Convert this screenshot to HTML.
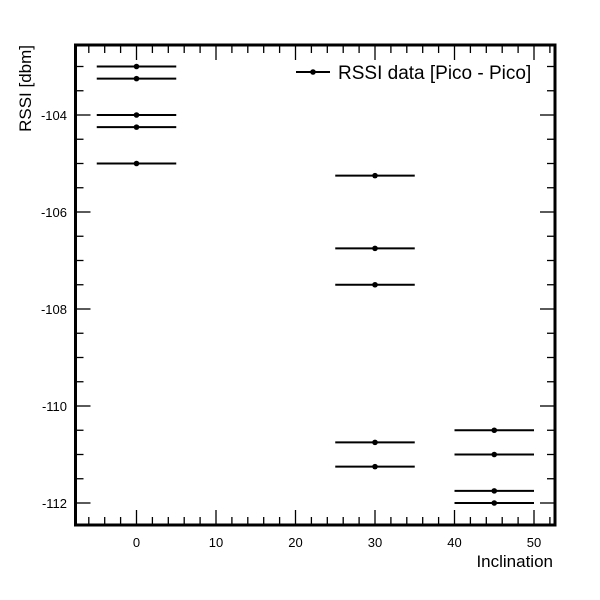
<!DOCTYPE html>
<html><head><meta charset="utf-8"><style>
body{margin:0;background:#fff;}
svg{display:block;font-family:"Liberation Sans",Arial,sans-serif;}
</style></head><body>
<svg id="chart" width="600" height="600">
<rect x="0" y="0" width="600" height="600" fill="#fff"/>
<g id="ticks"></g>
<g id="marks"></g>
<rect x="75.5" y="45" width="479.5" height="480" fill="none" stroke="#000" stroke-width="3"/>
<text x="553" y="567" text-anchor="end" font-size="17">Inclination</text>
<text transform="translate(31,45) rotate(-90)" text-anchor="end" font-size="17">RSSI [dbm]</text>
<g>
<line x1="296" y1="72" x2="330" y2="72" stroke="#000" stroke-width="2"/>
<circle cx="313" cy="72" r="2.8" fill="#000"/>
<text x="338" y="79" font-size="19">RSSI data [Pico - Pico]</text>
</g>
</svg>
<script>
const xValues=[0,0,0,0,0,30,30,30,30,30,45,45,45,45];
const yValues=[-103,-103.25,-104,-104.25,-105,-105.25,-106.75,-107.5,-110.75,-111.25,-110.5,-111,-111.75,-112];
const xErrors=[5,5,5,5,5,5,5,5,5,5,5,5,5,5];
const xTickLabels=[0,10,20,30,40,50];
const yTickLabels=[-104,-106,-108,-110,-112];
const NS="http://www.w3.org/2000/svg";
function X(v){return 136.5+7.95*v;}
function Y(v){return 115+(-104-v)*48.5;}
function mk(t,a,p){const e=document.createElementNS(NS,t);for(const k in a)e.setAttribute(k,a[k]);p.appendChild(e);return e;}
const T=document.getElementById('ticks'),M=document.getElementById('marks');
const L=75.5,R=555,TOP=45,B=525;
for(let v=-6;v<=52;v+=2){const x=X(v);if(x<L+1||x>R-1)continue;const maj=v%10===0;const len=maj?15:8;
mk('line',{x1:x,y1:B,x2:x,y2:B-len,stroke:'#000','stroke-width':1.3},T);
mk('line',{x1:x,y1:TOP,x2:x,y2:TOP+len,stroke:'#000','stroke-width':1.3},T);}
for(let v=-112.5;v<=-102.5;v+=0.5){const y=Y(v);if(y<TOP+1||y>B-1)continue;const maj=Math.abs(v%2)<1e-9;const len=maj?15:8;
mk('line',{x1:L,y1:y,x2:L+len,y2:y,stroke:'#000','stroke-width':1.3},T);
mk('line',{x1:R,y1:y,x2:R-len,y2:y,stroke:'#000','stroke-width':1.3},T);}
xTickLabels.forEach(v=>{const t=mk('text',{x:X(v),y:547,'text-anchor':'middle','font-size':13},T);t.textContent=v;

});
yTickLabels.forEach(v=>{const t=mk('text',{x:67,y:Y(v)+5,'text-anchor':'end','font-size':13},T);t.textContent=v;

});
xValues.forEach((xv,i)=>{const g=mk('g',{},M);


const y=Y(yValues[i]);
mk('line',{x1:X(xv-xErrors[i]),y1:y,x2:X(xv+xErrors[i]),y2:y,stroke:'#000','stroke-width':2},g);
mk('circle',{cx:X(xv),cy:y,r:2.8,fill:'#000'},g);});
</script>
</body></html>
